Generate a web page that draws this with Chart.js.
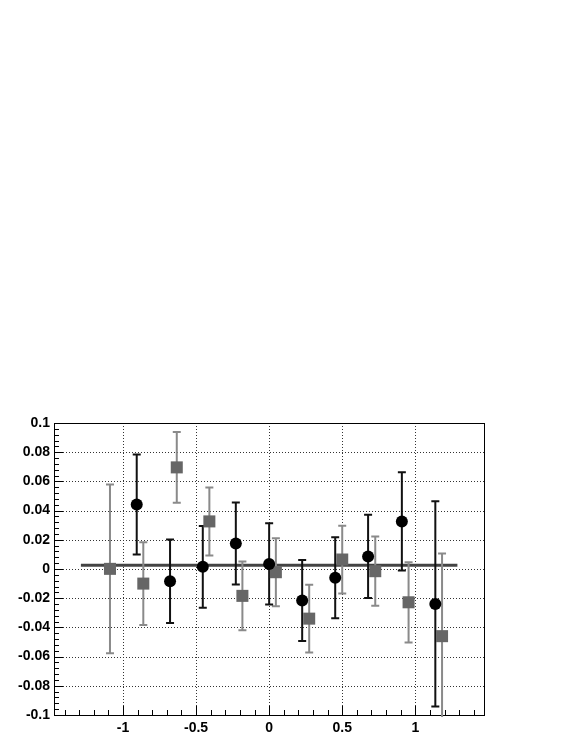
<!DOCTYPE html>
<html>
<head>
<meta charset="utf-8">
<script src="https://cdn.jsdelivr.net/npm/chart.js@4.4.0/dist/chart.umd.min.js"></script>
<style>
  html, body { margin: 0; padding: 0; background: #fff; }
</style>
</head>
<body>
<canvas id="chart" width="581" height="752"></canvas>
<script>
// values

// black circles
const circleX = [-0.906, -0.678, -0.454, -0.228, 0.0, 0.226, 0.452, 0.677, 0.908, 1.137];
const circleY = [0.0442, -0.0084, 0.0015, 0.0175, 0.0035, -0.0216, -0.0060, 0.0086, 0.0326, -0.0239];
const circleErr = [0.0342, 0.0286, 0.0280, 0.0281, 0.0279, 0.0277, 0.0277, 0.0285, 0.0336, 0.0703];

// grey squares
const squareX = [-1.089, -0.861, -0.632, -0.409, -0.183, 0.046, 0.274, 0.500, 0.726, 0.954, 1.183];
const squareY = [0.0001, -0.0100, 0.0696, 0.0326, -0.0184, -0.0022, -0.0340, 0.0065, -0.0015, -0.0228, -0.0460];
const squareErr = [0.0578, 0.0283, 0.0242, 0.0233, 0.0235, 0.0233, 0.0232, 0.0232, 0.0237, 0.0275, 0.0566];

// flat fit line
const fitX = [-1.288, 1.288];
const fitY = [0.0025, 0.0025];

// axis ticks
const xTicks = [-1, -0.5, 0, 0.5, 1];
const yTicks = [-0.1, -0.08, -0.06, -0.04, -0.02, 0, 0.02, 0.04, 0.06, 0.08, 0.1];

function pts(xs, ys) {
  return xs.map((v, i) => ({ x: v, y: ys[i] }));
}

// dotted grid, inward ticks and the frame
const frame = {
  id: 'frame',
  beforeDatasetsDraw(chart) {
    const { ctx, chartArea: a, scales: { x, y } } = chart;
    ctx.save();
    ctx.strokeStyle = '#333';
    ctx.lineWidth = 1;
    ctx.setLineDash([1, 2]);
    ctx.beginPath();
    xTicks.forEach(v => {
      const px = Math.round(x.getPixelForValue(v)) + 0.5;
      ctx.moveTo(px, a.top); ctx.lineTo(px, a.bottom);
    });
    yTicks.forEach(v => {
      const py = Math.round(y.getPixelForValue(v)) + 0.5;
      ctx.moveTo(a.left, py); ctx.lineTo(a.right, py);
    });
    ctx.stroke();
    ctx.setLineDash([]);

    ctx.strokeStyle = '#000';
    ctx.beginPath();
    for (let i = -14; i <= 14; i++) {
      const px = Math.round(x.getPixelForValue(i / 10)) + 0.5;
      const len = i % 5 === 0 ? 9 : 5;
      ctx.moveTo(px, a.bottom); ctx.lineTo(px, a.bottom - len);
    }
    for (let i = -25; i <= 25; i++) {
      const py = Math.round(y.getPixelForValue(i * 0.004)) + 0.5;
      const len = i % 5 === 0 ? 9 : 5;
      ctx.moveTo(a.left, py); ctx.lineTo(a.left + len, py);
    }
    ctx.stroke();

    ctx.strokeRect(Math.round(a.left) + 0.5, Math.round(a.top) + 0.5,
      Math.round(a.right - a.left), Math.round(a.bottom - a.top));
    ctx.restore();
  }
};

// error bars, drawn right after the fit line so markers sit on top
function drawErr(chart, xs, ys, es, color) {
  const { ctx, scales: { x, y } } = chart;
  ctx.strokeStyle = color;
  ctx.lineWidth = 2;
  xs.forEach((v, i) => {
    const px = x.getPixelForValue(v);
    const top = y.getPixelForValue(ys[i] + es[i]);
    const bot = y.getPixelForValue(ys[i] - es[i]);
    ctx.beginPath();
    ctx.moveTo(px, top); ctx.lineTo(px, bot);
    ctx.moveTo(px - 4, top); ctx.lineTo(px + 4, top);
    ctx.moveTo(px - 4, bot); ctx.lineTo(px + 4, bot);
    ctx.stroke();
  });
}

const errorBars = {
  id: 'errorBars',
  afterDatasetDraw(chart, args) {
    if (args.index !== 2) return;
    const { ctx, chartArea: a } = chart;
    ctx.save();
    ctx.beginPath();
    ctx.rect(a.left, a.top, a.right - a.left, a.bottom - a.top + 2);
    ctx.clip();
    drawErr(chart, squareX, squareY, squareErr, '#8a8a8a');
    drawErr(chart, circleX, circleY, circleErr, '#111');
    ctx.restore();
  }
};

Chart.defaults.font.family = "'Liberation Sans', Arial, sans-serif";
Chart.defaults.font.size = 14;
Chart.defaults.font.weight = 'bold';
Chart.defaults.color = '#000';

const chart = new Chart(document.getElementById('chart'), {
  type: 'scatter',
  data: {
    datasets: [
      {
        data: pts(circleX, circleY),
        pointStyle: 'circle',
        pointRadius: 6,
        backgroundColor: '#000',
        borderWidth: 0
      },
      {
        data: pts(squareX, squareY),
        pointStyle: 'rect',
        pointRadius: 8.5,
        backgroundColor: '#666',
        borderWidth: 0
      },
      {
        type: 'line',
        data: pts(fitX, fitY),
        showLine: true,
        borderColor: '#444',
        borderWidth: 3,
        pointRadius: 0,
        fill: false
      }
    ]
  },
  options: {
    responsive: false,
    animation: false,
    layout: { padding: { top: 423, right: 97, bottom: 0, left: 0 } },
    plugins: { legend: { display: false }, tooltip: { enabled: false } },
    scales: {
      x: {
        type: 'linear',
        min: -1.472,
        max: 1.47,
        grid: { display: false, drawTicks: false },
        border: { display: false },
        afterBuildTicks: s => { s.ticks = xTicks.map(v => ({ value: v })); },
        afterFit: s => { s.height = 37; },
        ticks: { padding: 5, maxRotation: 0, callback: v => String(v) }
      },
      y: {
        type: 'linear',
        min: -0.1,
        max: 0.1,
        grid: { display: false, drawTicks: false },
        border: { display: false },
        afterBuildTicks: s => { s.ticks = yTicks.map(v => ({ value: v })); },
        afterFit: s => { s.width = 54; },
        ticks: { padding: 4, callback: v => String(v) }
      }
    }
  },
  plugins: [frame, errorBars]
});
</script>
</body>
</html>
